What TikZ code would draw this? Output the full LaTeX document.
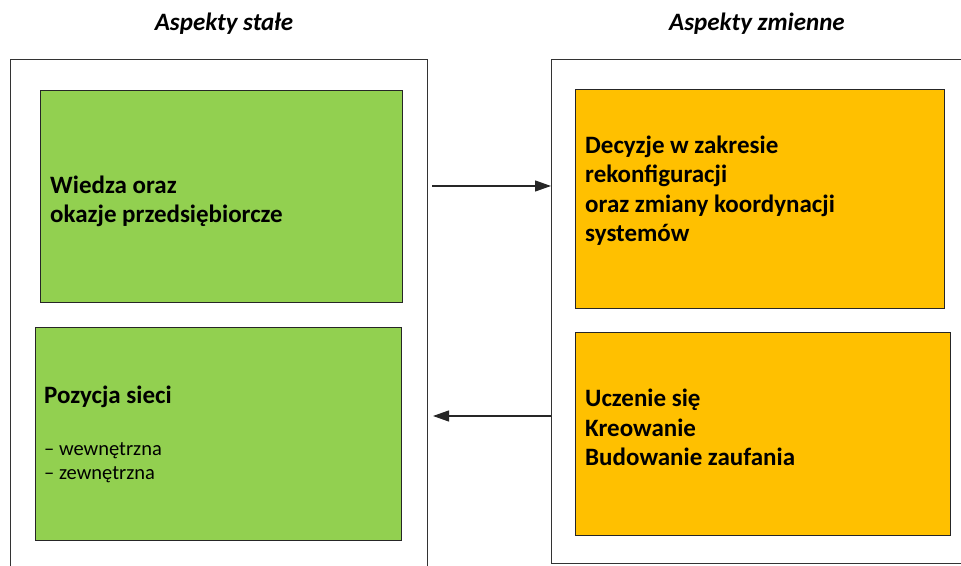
\documentclass[tikz,border=0pt]{standalone}
\usepackage{fontspec}
\setmainfont{Carlito}
\usetikzlibrary{arrows.meta,positioning}
\definecolor{zielony}{HTML}{92D050}
\definecolor{pomaranczowy}{HTML}{FFC000}
\begin{document}
\begin{tikzpicture}[x=1pt,y=1pt,line join=miter,>={Triangle[length=16pt,width=11pt]},
  ramka/.style={draw=black!80,line width=1.4pt,inner sep=0pt,anchor=north west},
  pole/.style={draw=black!85,line width=1.1pt,inner sep=0pt,anchor=north west},
  tytul/.style={font=\fontsize{25}{30}\selectfont\bfseries\itshape,inner sep=0pt,anchor=base},
  tekst/.style={font=\fontsize{25}{29.5}\selectfont\bfseries,align=left,inner sep=0pt,anchor=base west},
  lista/.style={font=\fontsize{20.5}{24.3}\selectfont,align=left,inner sep=0pt,anchor=base west},
  strzalka/.style={->,line width=1.2pt,draw=black!85}]
\useasboundingbox (0,0) rectangle (961,565);
\node[tytul] (tstale) at (224,534) {Aspekty stałe};
\node[tytul] (tzmienne) at (757,534) {Aspekty zmienne};
\node[ramka,minimum width=417pt,minimum height=516pt] (stale) at (10,506) {};
\node[ramka,minimum width=420pt,minimum height=504pt] (zmienne) at (551,506) {};
\node[pole,fill=zielony,minimum width=362pt,minimum height=212pt] (wiedza) at (40,475) {};
\node[pole,fill=zielony,minimum width=366pt,minimum height=213pt] (siec) at (35,238) {};
\node[pole,fill=pomaranczowy,minimum width=369pt,minimum height=219pt] (decyzje) at (575,476) {};
\node[pole,fill=pomaranczowy,minimum width=375pt,minimum height=203pt] (uczenie) at (575,233) {};
% base = last line
\node[tekst] (twiedza) at (50,342) {Wiedza oraz\\okazje przedsiębiorcze};
\node[tekst] (tsiec) at (44,161.7) {Pozycja sieci};
\node[lista] (tlista) at (44,85) {– wewnętrzna\\– zewnętrzna};
\node[tekst] (tdecyzje) at (585,323.3) {Decyzje w zakresie\\rekonfiguracji\\oraz zmiany koordynacji\\systemów};
\node[tekst] (tuczenie) at (585,99.3) {Uczenie się\\Kreowanie\\Budowanie zaufania};
\coordinate (p1) at (432,379);
\coordinate (p2) at (433,149);
\draw[strzalka] (p1) -- (zmienne.west |- p1);
\draw[strzalka] (zmienne.west |- p2) -- (p2);
\end{tikzpicture}
\end{document}
